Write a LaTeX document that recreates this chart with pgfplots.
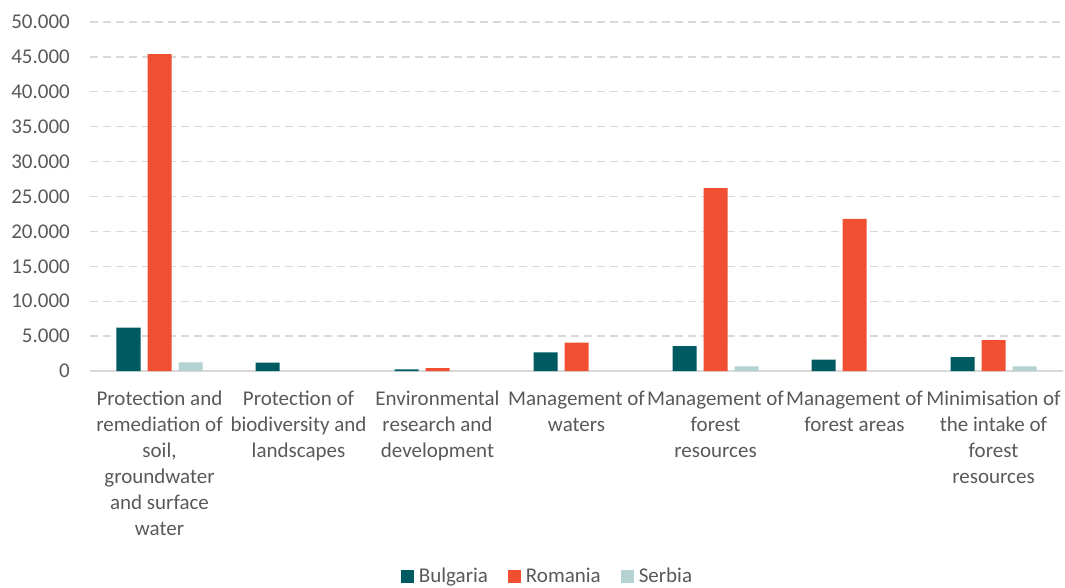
\documentclass[border=0pt]{standalone}
\usepackage{fontspec}
\setmainfont{Carlito}
\usepackage{pgfplots}
\pgfplotsset{compat=1.18}
\definecolor{bgc}{HTML}{005A62}
\definecolor{roc}{HTML}{F04F32}
\definecolor{sec}{HTML}{B4D2D2}
\definecolor{txt}{HTML}{595959}
\definecolor{gridc}{HTML}{D9D9D9}
\begin{document}
\fontsize{21}{26}\selectfont
\begin{tikzpicture}
\begin{axis}[
  scale only axis, width=973pt, height=349pt,
  ymin=0, ymax=50000, ytick={0,5000,...,50000},
  scaled y ticks=false,
  xmin=-0.5, xmax=6.5, xtick={0,...,6},
  xticklabels={{Protection and\\remediation of\\soil,\\groundwater\\and surface\\water},
    {Protection of\\biodiversity and\\landscapes},
    {Environmental\\research and\\development},
    {Management of\\waters},
    {Management of\\forest\\resources},
    {Management of\\forest areas},
    {Minimisation of\\the intake of\\forest\\resources}},
  ybar=7pt, bar width=24pt,
  axis x line*=bottom, axis y line*=left,
  y axis line style={draw=none},
  x axis line style={draw=gridc, line width=1.5pt, -},
  major tick length=0pt,
  ymajorgrids, grid style={gridc, line width=1.3pt, dash pattern=on 8pt off 5pt},
  tick label style={font=\fontsize{21}{26}\selectfont, text=txt},
  xticklabel style={align=center, yshift=-13pt},
  yticklabel style={xshift=-13pt},
  /pgf/number format/.cd, fixed, precision=0, 1000 sep={.}, assume math mode=true,
  /pgfplots/.cd,
  legend style={draw=none, font=\fontsize{21}{26}\selectfont, text=txt,
    legend columns=3, at={(0.4702,-0.590)}, anchor=center,
    /tikz/every odd column/.append style={column sep=3pt},
    /tikz/every even column/.append style={column sep=18pt}},
  legend image code/.code={\fill[#1] (0pt,-6.5pt) rectangle (13pt,6.5pt);},
]
\addplot[fill=bgc, draw=none] coordinates {(0,6200) (1,1190) (2,250) (3,2680) (4,3580) (5,1620) (6,2000)};
\addplot[fill=roc, draw=none] coordinates {(0,45400) (2,400) (3,4050) (4,26200) (5,21800) (6,4440)};
\addplot[fill=sec, draw=none] coordinates {(0,1250) (4,670) (6,670)};
\legend{Bulgaria, Romania, Serbia}
\end{axis}
\pgfresetboundingbox
\path (-90pt,-216pt) rectangle (975pt,371pt);
\end{tikzpicture}
\end{document}
